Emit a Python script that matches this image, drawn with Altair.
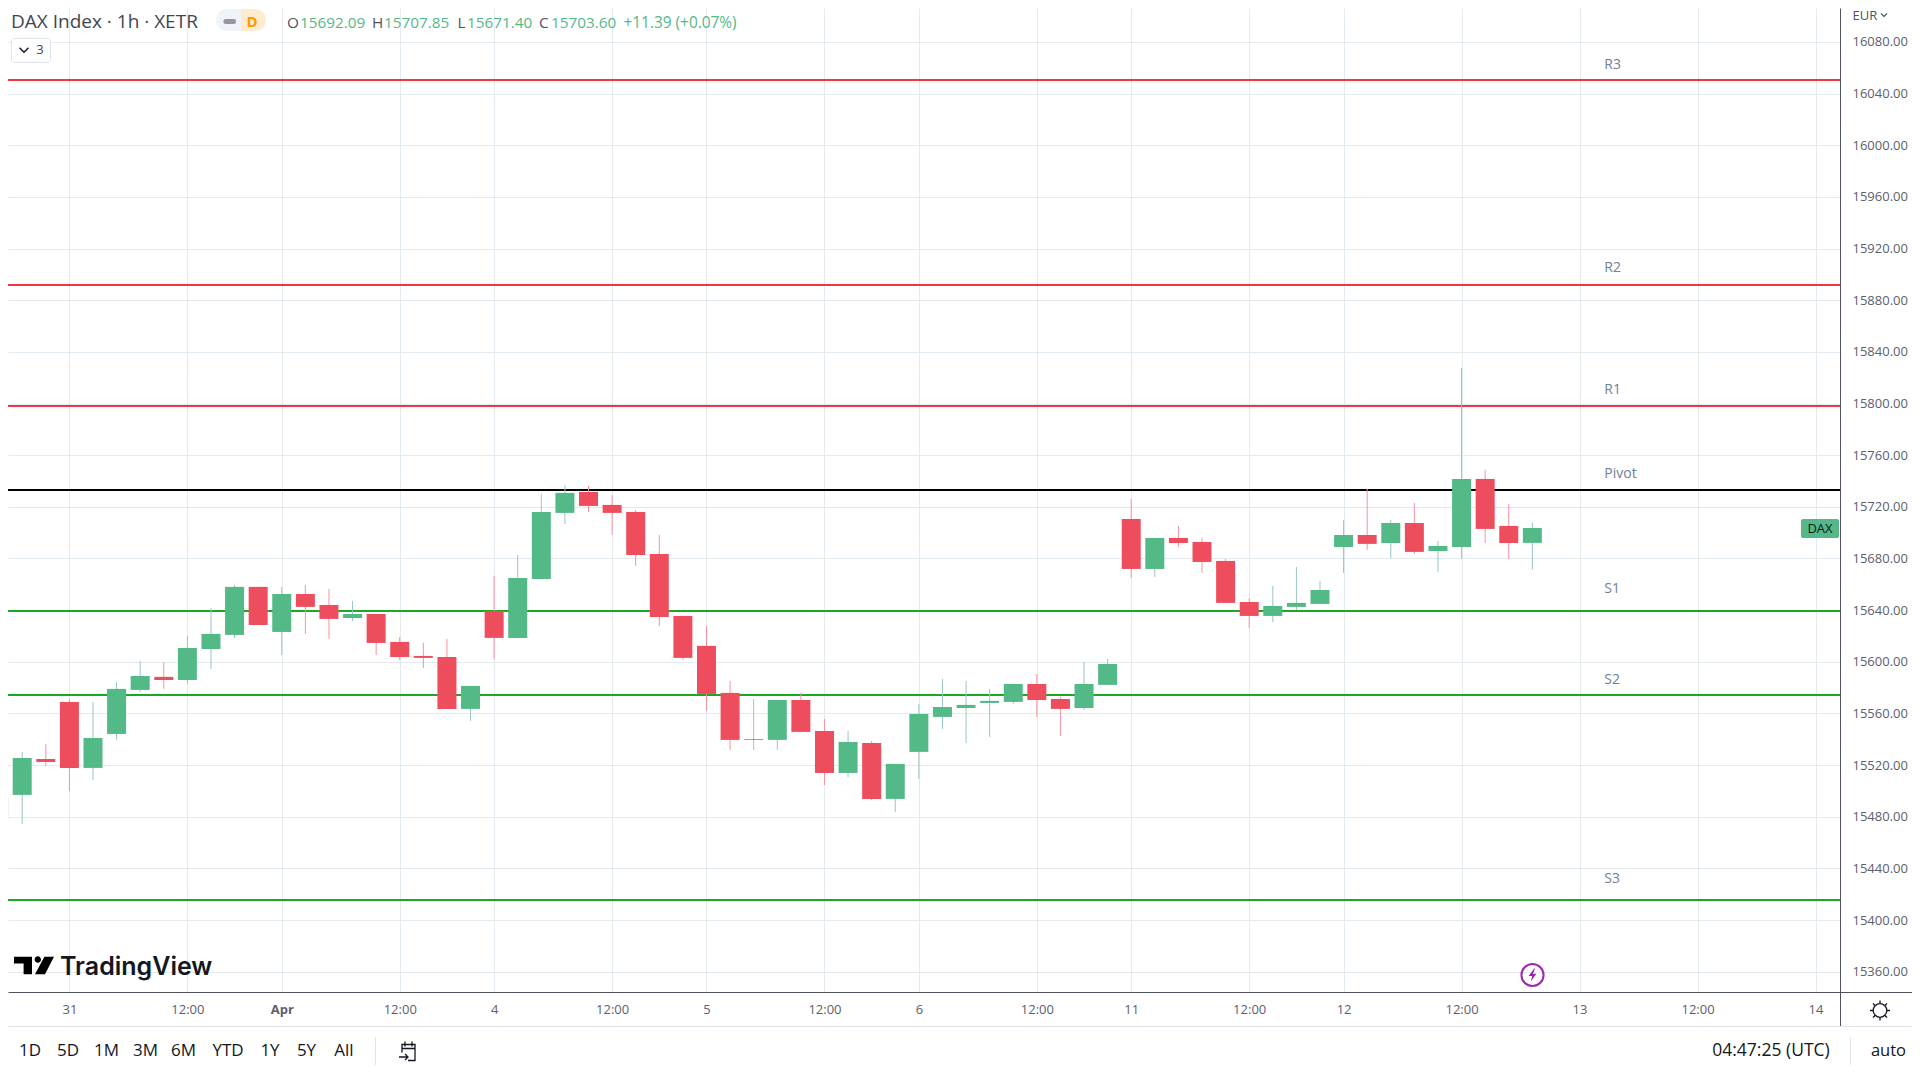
import json
import altair as alt
import pandas as pd

# ---- candles (hourly bars; index 0 is the first bar of the 31st)
bar_index = list(range(-3, 63))
opens = [15478.3,15496.9,15524.7,15568.9,15517.8,15544.1,15578.2,15588.3,15585.9,15609.9,15620.8,15658.0,15623.1,15652.5,15644.0,15633.9,15637.0,15615.4,15604.5,15603.7,15563.5,15639.4,15618.5,15664.1,15715.3,15731.5,15721.5,15716.0,15683.5,15635.5,15612.3,15575.9,15539.5,15539.5,15570.4,15546.4,15513.9,15537.1,15493.8,15530.2,15557.3,15564.2,15568.1,15568.9,15582.8,15571.2,15564.2,15582.1,15710.6,15671.9,15695.9,15692.8,15678.1,15646.3,15635.5,15642.5,15644.8,15688.9,15698.2,15692.0,15707.5,15685.8,15688.9,15741.6,15705.2,15692.09]
highs = [15495.3,15530.2,15536.4,15571.2,15568.9,15584.4,15600.6,15599.9,15620.0,15641.7,15659.5,15658.0,15658.0,15659.5,15656.4,15647.1,15637.0,15619.2,15614.6,15617.7,15581.3,15666.5,15682.7,15730.0,15736.9,15736.2,15729.2,15717.6,15698.2,15635.5,15627.8,15585.2,15571.2,15570.4,15575.9,15555.7,15546.4,15538.7,15520.9,15567.3,15586.7,15585.2,15579.0,15582.8,15590.6,15572.8,15599.9,15602.2,15726.1,15695.9,15705.2,15695.9,15679.6,15649.4,15658.7,15673.4,15662.6,15709.8,15733.9,15709.8,15723.0,15693.6,15827.6,15748.6,15722.2,15707.85]
lows = [15478.3,15474.4,15519.3,15500.0,15508.5,15539.5,15576.6,15579.0,15582.8,15594.5,15618.5,15628.5,15605.3,15621.6,15617.7,15631.6,15605.3,15601.4,15595.2,15563.5,15554.2,15602.2,15618.5,15664.1,15706.7,15716.0,15698.2,15674.2,15627.8,15601.4,15561.9,15531.7,15531.7,15531.7,15545.7,15504.6,15510.8,15493.0,15483.7,15509.3,15548.0,15537.1,15541.8,15567.3,15557.3,15542.6,15562.7,15582.1,15664.9,15665.7,15688.9,15668.8,15645.6,15626.2,15630.8,15640.1,15644.8,15668.8,15686.6,15680.4,15683.5,15669.6,15679.6,15692.0,15679.6,15671.40]
closes = [15495.3,15525.5,15522.4,15517.8,15541.0,15579.0,15589.0,15585.9,15610.7,15621.6,15658.0,15628.5,15652.5,15642.5,15633.2,15637.0,15614.6,15603.7,15603.0,15563.5,15581.3,15618.5,15664.9,15716.0,15730.8,15720.7,15715.3,15682.7,15634.7,15603.0,15575.1,15539.5,15540.2,15570.4,15545.7,15513.9,15537.9,15493.8,15520.9,15559.6,15565.0,15566.6,15569.7,15582.8,15570.4,15563.5,15582.8,15598.3,15671.9,15695.9,15692.0,15677.3,15645.6,15635.5,15643.2,15645.6,15655.6,15698.2,15691.3,15707.5,15685.1,15689.7,15741.6,15702.9,15692.0,15703.60]

# ---- pivot levels
level_names = ["R3", "R2", "R1", "Pivot", "S1", "S2", "S3"]
level_prices = [16050.6, 15891.8, 15798.1, 15733.0, 15639.4, 15574.3, 15415.5]
level_colors = ["#f23645", "#f23645", "#f23645", "#000000", "#1aa922", "#1aa922", "#1aa922"]
label_prices = [16062.0, 15904.8, 15810.6, 15745.7, 15656.7, 15585.5, 15431.8]
label_index = 65.05

# ---- axes
price_ticks = list(range(15360, 16120, 40))
time_ticks = [0, 5, 9, 14, 18, 23, 27, 32, 36, 41, 45, 50, 54, 59, 64, 69, 74]
time_labels = ["31", "12:00", "Apr", "12:00", "4", "12:00", "5", "12:00", "6", "12:00",
               "11", "12:00", "12", "12:00", "13", "12:00", "14"]

X_DOMAIN = [-2.6021, 75.038]
Y_DOMAIN = [15344.25, 16106.33]
GRID = "#e3ebf1"
AXIS = "#50535e"
TEXT = "#131722"
FONT = "Open Sans"
UP = "#53b987"
DOWN = "#ee4d5d"
UP_WICK = "#97c6c4"
DOWN_WICK = "#f7919f"

df = pd.DataFrame({"i": bar_index, "open": opens, "high": highs, "low": lows, "close": closes})
levels = pd.DataFrame({"name": level_names, "price": level_prices, "color": level_colors,
                       "label_price": label_prices, "label_i": label_index})

xs = alt.Scale(domain=X_DOMAIN, nice=False, zero=False, padding=0)
ys = alt.Scale(domain=Y_DOMAIN, nice=False, zero=False, padding=0)

label_expr = "%s[indexof(%s, datum.value)]" % (json.dumps(time_labels), json.dumps(time_ticks))
x_axis = alt.Axis(values=time_ticks, labelExpr=label_expr, title=None, grid=True, gridColor=GRID,
                  gridWidth=1, ticks=False, domain=True, domainColor=AXIS, domainWidth=1,
                  labelFont=FONT, labelFontSize=13, labelColor="#5d606b", labelPadding=17,
                  labelBaseline="middle", labelOverlap=False, labelFlush=False, labelBound=False,
                  labelFontWeight={"condition": {"test": "datum.value == 9", "value": "bold"},
                                   "value": "normal"})
y_axis = alt.Axis(values=price_ticks, format=".2f", orient="right", title=None, grid=True,
                  gridColor=GRID, gridWidth=1, ticks=False, domain=True, domainColor=AXIS,
                  domainWidth=1, labelFont=FONT, labelFontSize=13, labelColor="#5d606b",
                  labelPadding=12, labelOverlap=False, labelFlush=False, labelBound=False)

X = lambda f: alt.X(f, scale=xs, axis=x_axis)
Y = lambda f: alt.Y(f, scale=ys, axis=y_axis)

# pixel positions below are screen pixels; the plot starts 8px in because of the page margin
OFF = 8
one = alt.Data(values=[{"a": 1}])


def txt(text, x, y, size=13, color=TEXT, weight="normal", align="left", font=FONT):
    return alt.Chart(alt.Data(values=[{"t": text}])).mark_text(
        font=font, fontSize=size, color=color, fontWeight=weight, align=align, baseline="middle"
    ).encode(text="t:N", x=alt.value(x - OFF), y=alt.value(y - OFF))


def box(x0, x1, y0, y1, **kw):
    return alt.Chart(one).mark_rect(**kw).encode(
        x=alt.value(x0 - OFF), x2=alt.value(x1 - OFF), y=alt.value(y0 - OFF), y2=alt.value(y1 - OFF))


def hline(x0, x1, y, color, w=1):
    return alt.Chart(one).mark_rule(color=color, strokeWidth=w).encode(
        x=alt.value(x0 - OFF), x2=alt.value(x1 - OFF), y=alt.value(y - OFF))


def vline(x, y0, y1, color, w=1):
    return alt.Chart(one).mark_rule(color=color, strokeWidth=w).encode(
        x=alt.value(x - OFF), y=alt.value(y0 - OFF), y2=alt.value(y1 - OFF))


def icon(path, x, y, span, stroke=None, fill=None, w=1.3):
    kw = dict(shape=path, size=span * span, opacity=1, strokeWidth=w)
    kw.update(filled=fill is not None)
    if fill is not None:
        kw.update(fill=fill, stroke=fill)
    else:
        kw.update(stroke=stroke)
    return alt.Chart(one).mark_point(**kw).encode(x=alt.value(x - OFF), y=alt.value(y - OFF))


# --- data layers
level_rules = alt.Chart(levels).mark_rule(strokeWidth=2).encode(
    y=Y("price:Q"), color=alt.Color("color:N", scale=None))
level_text = alt.Chart(levels).mark_text(
    font=FONT, fontSize=14, color="#6f8196", align="left", baseline="middle"
).encode(x=X("label_i:Q"), y=Y("label_price:Q"), text="name:N")
wicks = alt.Chart(df).mark_rule(strokeWidth=1, clip=True).encode(
    x=X("i:Q"), y=Y("high:Q"), y2="low:Q",
    color=alt.condition("datum.close >= datum.open", alt.value(UP_WICK), alt.value(DOWN_WICK)))
bodies = alt.Chart(df).mark_bar(size=19, clip=True).encode(
    x=X("i:Q"), y=Y("open:Q"), y2="close:Q",
    color=alt.condition("datum.close >= datum.open", alt.value(UP), alt.value(DOWN)))

# --- chrome
logo_path = ("M-1,-0.44L-0.1,-0.44L-0.1,0.44L-0.52,0.44L-0.52,-0.1L-1,-0.1Z"
             "M0.03,-0.3A0.16,0.16 0 1 1 0.35,-0.3A0.16,0.16 0 1 1 0.03,-0.3Z"
             "M0.52,-0.44L1,-0.44L0.55,0.44L0.05,0.44Z")
bolt_path = "M0.25,-1L-0.6,0.15L-0.05,0.15L-0.25,1L0.6,-0.2L0.05,-0.2L0.4,-1Z"
gear_path = ("M0.68,0A0.68,0.68 0 1 1 -0.68,0A0.68,0.68 0 1 1 0.68,0Z"
             "M0,-1L0,-0.68M0,1L0,0.68M-1,0L-0.68,0M1,0L0.68,0"
             "M-0.7,-0.7L-0.48,-0.48M0.7,-0.7L0.48,-0.48M-0.7,0.7L-0.48,0.48M0.7,0.7L0.48,0.48")
cal_path = ("M-0.5,0.1L-0.5,-0.7L0.8,-0.7L0.8,0.9L0.1,0.9M-0.5,-0.3L0.8,-0.3"
            "M-0.2,-1L-0.2,-0.5M0.5,-1L0.5,-0.5M-0.8,0.55L0.1,0.55M-0.2,0.25L0.1,0.55L-0.2,0.85")
chevron_path = "M-1,-0.5L0,0.5L1,-0.5"

chrome = [
    hline(1840, 1912, 992.5, AXIS),
    vline(1840.5, 992, 1026, AXIS),
    hline(0, 1912, 1026.5, "#e0e3eb"),
    vline(375.5, 1037, 1065, "#e0e3eb"),
    vline(1850.5, 1037, 1065, "#e0e3eb"),
    # header
    txt("DAX Index · 1h · XETR", 11, 22, size=19, color="#434651"),
    box(216, 241, 9, 31, color="#f0f3fa", cornerRadiusTopLeft=11, cornerRadiusBottomLeft=11),
    box(241, 266, 9, 31, color="#ffeccf", cornerRadiusTopRight=11, cornerRadiusBottomRight=11),
    box(223.5, 236, 19, 24, color="#9598a1", cornerRadius=2),
    txt("D", 252, 21.5, size=15, color="#ff9800", weight="bold", align="center"),
    txt("O", 287, 22.5, size=15.3, color=AXIS), txt("15692.09", 300, 22.5, size=15.3, color=UP),
    txt("H", 372, 22.5, size=15.3, color=AXIS), txt("15707.85", 384, 22.5, size=15.3, color=UP),
    txt("L", 457.5, 22.5, size=15.3, color=AXIS), txt("15671.40", 467, 22.5, size=15.3, color=UP),
    txt("C", 539, 22.5, size=15.3, color=AXIS), txt("15703.60", 551, 22.5, size=15.3, color=UP),
    txt("+11.39 (+0.07%)", 623.5, 22.5, size=15.4, color=UP),
    box(11.5, 50.5, 38.5, 62.5, fill="#ffffff", stroke="#e0e3eb", strokeWidth=1, cornerRadius=3),
    icon(chevron_path, 24, 50, 9, stroke=TEXT, w=1.4),
    txt("3", 40, 50, size=13, color="#434651", align="center"),
    # currency, price tag
    txt("EUR", 1852.5, 15.5, size=13, color=AXIS),
    icon(chevron_path, 1884, 15, 6, stroke=AXIS, w=1.2),
    box(1801, 1839, 519, 538, color=UP, cornerRadius=2),
    txt("DAX", 1820, 528.5, size=13, color=TEXT, align="center"),
    # logo
    icon(logo_path, 34, 965.5, 40, fill="#000000", w=0),
    txt("TradingView", 60, 967, size=25, color="#131722", weight=600, font="Inter"),
    # lightning badge, settings, calendar
    alt.Chart(one).mark_point(shape="circle", size=490, filled=False, stroke="#9c27b0",
                              strokeWidth=2, opacity=1).encode(
        x=alt.value(1532.5 - OFF), y=alt.value(975 - OFF)),
    icon(bolt_path, 1532.5, 975, 13, fill="#9c27b0", w=0),
    icon(gear_path, 1880, 1010.5, 20, stroke=TEXT),
    icon(cal_path, 407, 1051.5, 20, stroke=TEXT),
    # footer
    txt("04:47:25 (UTC)", 1771, 1051, size=17.5, color=TEXT, align="center"),
    txt("auto", 1888.5, 1051, size=16.5, color=TEXT, align="center"),
]
for label, cx in zip(["1D", "5D", "1M", "3M", "6M", "YTD", "1Y", "5Y", "All"],
                     [30, 68, 106.5, 145.5, 183.5, 228, 270, 306.5, 344]):
    chrome.append(txt(label, cx, 1051, size=17, color=TEXT, align="center"))

chart = alt.layer(level_rules, wicks, bodies, level_text, *chrome).properties(
    width=1832, height=984,
    padding={"left": 0, "top": 0, "right": 72, "bottom": 80},
    autosize=alt.AutoSizeParams(type="none"),
    background="#ffffff",
).configure_view(stroke=None)

chart.save("out.html", embed_options={"renderer": "svg", "actions": False})
